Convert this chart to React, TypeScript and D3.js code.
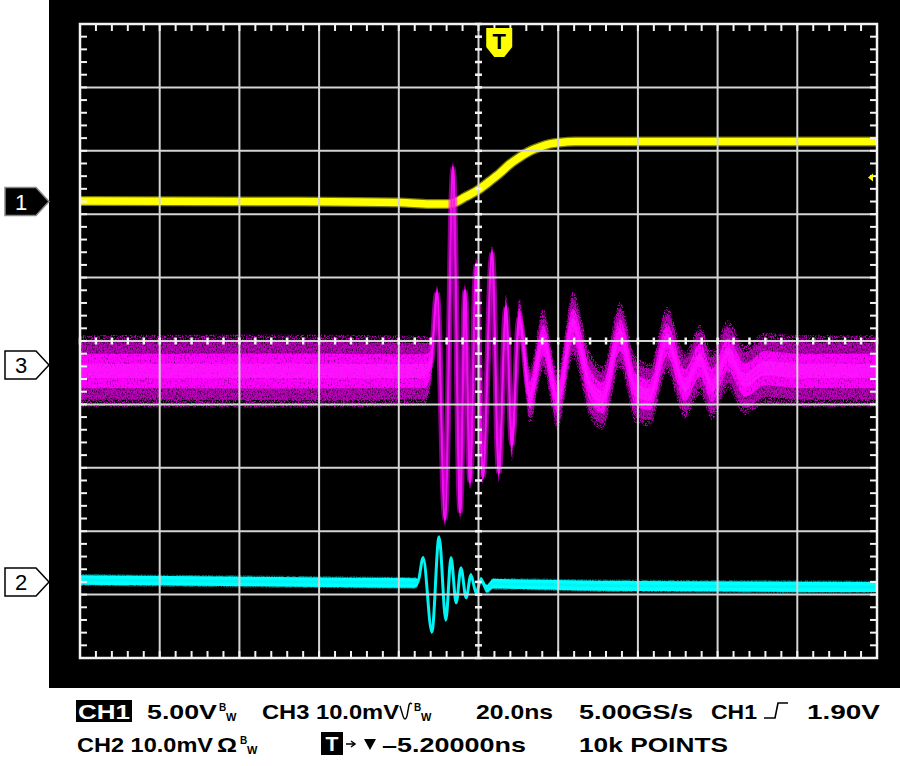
import React from 'react';
import * as d3 from 'd3';

// ---- Data (time in ns, relative to screen centre) ----
// CH1 (5.00 V/div)
const ch1Time = [-100, -44.8, -19.7, -12.2, -7.65, -5.6, -3.4, -0.1, 2.9, 5.4, 7.9, 10.4, 12.9, 15.4, 17.9, 20.5, 24.2, 100];
const ch1Volts = [0.04, 0, -0.08, -0.2, -0.2, -0.04, 0.35, 0.91, 1.62, 2.25, 2.96, 3.51, 3.98, 4.3, 4.54, 4.66, 4.73, 4.73];

// CH3 (10.0 mV/div) – centre of the persistence band and its half-width
const ch3Time = [-100, -44.8, -13.4, -11.9, -10.4, -8.4, -6.4, -4.6, -3.4, -2.1, -0.6, 1.1, 3.4, 5.1, 6.9, 8.4, 10.2, 12.9, 16.2, 19.9, 23.7, 28.0, 31.2, 35.5, 39.5, 43.0, 47.3, 51.8, 55.6, 58.6, 62.6, 66.9, 71.9, 80.7, 100];
const ch3mV = [-0.95, -0.95, -0.95, 0.47, 11.4, -24.4, 31.2, -23.3, 11.8, -18.5, 15.8, -17.7, 17.7, -17.0, 9.1, -12.6, 7.4, -4.7, 3.9, -5.5, 6.3, -3.2, -5.2, 4.7, -3.9, -4.7, 3.9, -3.2, 0.8, -3.2, 1.6, -2.4, -0.5, -0.95, -0.95];
const ch3Spread = [4.5, 4.6, 4.4, 3.0, 1.0, 1.0, 0.8, 1.0, 1.0, 1.0, 1.0, 1.0, 1.0, 1.2, 1.6, 2.0, 2.6, 3.6, 4.0, 3.8, 4.2, 4.2, 4.0, 4.2, 4.2, 4.0, 4.2, 4.2, 4.4, 4.4, 4.4, 4.4, 4.5, 4.5, 4.5];

// CH2 (10.0 mV/div) – centre and half-width of the trace
const ch2Time = [-100, -44.8, -15.9, -15.2, -13.9, -11.7, -9.9, -8.2, -6.9, -5.6, -4.4, -3.1, -1.9, -0.6, 0.6, 2.1, 3.6, 30.5, 100];
const ch2mV = [0.3, 0, -0.16, 0, 3.8, -7.9, 7.1, -6.0, 3.8, -3.3, 2.2, -2.5, 1.1, -1.7, 0.3, -1.1, -0.3, -0.6, -0.8];
const ch2Spread = [0.75, 0.75, 0.75, 0.5, 0.25, 0.25, 0.25, 0.25, 0.25, 0.25, 0.25, 0.25, 0.3, 0.35, 0.45, 0.6, 0.75, 0.8, 0.8];

// Channel settings (offset in divisions from screen centre, units per division)
const ch1Offset = 2.2; const ch1PerDiv = 5;
const ch3Offset = -0.378; const ch3PerDiv = 10;
const ch2Offset = -3.8; const ch2PerDiv = 10;
const triggerTime = 5.2; // ns
const triggerLevel = 1.9; // V

const W = 900, H = 766;
const PX0 = 80, PX1 = 877, PY0 = 24, PY1 = 658;

export default function App() {
  const x = d3.scaleLinear().domain([-100, 100]).range([PX0, PX1]);
  const yd = d3.scaleLinear().domain([-5, 5]).range([PY1, PY0]);
  const y1 = (v: number) => yd(ch1Offset + v / ch1PerDiv);
  const y3 = (v: number) => yd(ch3Offset + v / ch3PerDiv);
  const y2 = (v: number) => yd(ch2Offset + v / ch2PerDiv);

  const ch1 = ch1Time.map((t, i) => [t, ch1Volts[i]] as [number, number]);
  const ch3 = ch3Time.map((t, i) => ({ t, v: ch3mV[i], s: ch3Spread[i] }));
  const ch2 = ch2Time.map((t, i) => ({ t, v: ch2mV[i], s: ch2Spread[i] }));

  const line1 = d3.line<[number, number]>().x(d => x(d[0])).y(d => y1(d[1])).curve(d3.curveMonotoneX);
  const line2 = d3.line<any>().x(d => x(d.t)).y(d => y2(d.v)).curve(d3.curveMonotoneX);
  const band2 = (k: number) => d3.area<any>().x(d => x(d.t)).y0(d => y2(d.v - d.s * k)).y1(d => y2(d.v + d.s * k)).curve(d3.curveMonotoneX);
  const line3 = d3.line<any>().x(d => x(d.t)).y(d => y3(d.v)).curve(d3.curveMonotoneX);
  const band3 = (k: number) => d3.area<any>().x(d => x(d.t)).y0(d => y3(d.v - d.s * k)).y1(d => y3(d.v + d.s * k)).curve(d3.curveMonotoneX);

  // graticule
  const vDivs = d3.range(0, 11).map(i => -100 + i * 20);
  const hDivs = d3.range(-5, 6);
  const xMinor = d3.range(0, 51).map(i => -100 + i * 4);
  const yMinor = d3.range(0, 51).map(i => -5 + i * 0.2);
  const grid = '#d4d4d4';
  const tick = '#f2f2f2';

  const txt = { fontFamily: '"Liberation Sans", Arial, sans-serif', fontWeight: 700 } as const;

  return (
    <svg width={W} height={H} style={{ position: 'absolute', left: 0, top: 0, background: '#fff' }}>
      <defs>
        <filter id="grainSparse" x="0" y="0" width="900" height="766" filterUnits="userSpaceOnUse">
          <feTurbulence type="fractalNoise" baseFrequency="0.9 0.6" numOctaves="2" seed="11" result="n" />
          <feColorMatrix in="n" type="matrix" values="0 0 0 0 0  0 0 0 0 0  0 0 0 0 0  4 0 0 0 -1.7" result="a" />
          <feComposite in="SourceGraphic" in2="a" operator="in" />
        </filter>
        <filter id="grain" x="0" y="0" width="900" height="766" filterUnits="userSpaceOnUse">
          <feTurbulence type="fractalNoise" baseFrequency="0.8 0.45" numOctaves="2" seed="7" result="n" />
          <feColorMatrix in="n" type="matrix" values="0 0 0 0 0  0 0 0 0 0  0 0 0 0 0  3.2 0 0 0 -0.9" result="a" />
          <feComposite in="SourceGraphic" in2="a" operator="in" />
        </filter>
        <filter id="grainDense" x="0" y="0" width="900" height="766" filterUnits="userSpaceOnUse">
          <feTurbulence type="fractalNoise" baseFrequency="0.7 0.4" numOctaves="2" seed="3" result="n" />
          <feColorMatrix in="n" type="matrix" values="0 0 0 0 0  0 0 0 0 0  0 0 0 0 0  3 0 0 0 -0.5" result="a" />
          <feComposite in="SourceGraphic" in2="a" operator="in" />
        </filter>
        <clipPath id="plot"><rect x={PX0} y={PY0} width={PX1 - PX0} height={PY1 - PY0} /></clipPath>
      </defs>
      <rect x={49} y={0} width={851} height={688} fill="#000" />

      <g clipPath="url(#plot)">
        {/* CH1 yellow */}
        <path d={line1(ch1) || ''} fill="none" stroke="#ffff00" strokeOpacity={0.45} strokeWidth={10} />
        <path d={line1(ch1) || ''} fill="none" stroke="#ffff00" strokeWidth={7.5} />
        {/* CH2 cyan */}
        <path d={band2(1.25)(ch2) || ''} fill="#00e8e8" fillOpacity={0.5} filter="url(#grain)" />
        <path d={band2(1)(ch2) || ''} fill="#00ffff" />
        <path d={line2(ch2) || ''} fill="none" stroke="#00f4f4" strokeWidth={3} />
        {/* CH3 magenta */}
        <path d={band3(1.25)(ch3) || ''} fill="#c000c0" filter="url(#grainSparse)" />
        <path d={band3(1)(ch3) || ''} fill="#d000d0" filter="url(#grain)" />
        <path d={band3(1)(ch3) || ''} fill="#900090" fillOpacity={0.3} />
        <path d={band3(0.6)(ch3) || ''} fill="#ff00ff" filter="url(#grainDense)" />
        <path d={band3(0.25)(ch3) || ''} fill="#ff20ff" fillOpacity={0.6} />
        <path d={line3(ch3) || ''} fill="none" stroke="#ff00ff" strokeOpacity={0.55} strokeWidth={2} transform="translate(-2,0)" />
        <path d={line3(ch3) || ''} fill="none" stroke="#ff00ff" strokeOpacity={0.55} strokeWidth={2} transform="translate(2,0)" />
        <path d={line3(ch3) || ''} fill="none" stroke="#ff10ff" strokeOpacity={0.9} strokeWidth={2.5} />
      </g>

      {/* graticule */}
      {vDivs.map(t => <line key={'v' + t} x1={x(t)} x2={x(t)} y1={PY0} y2={PY1} stroke={grid} strokeWidth={2} />)}
      {hDivs.map(d => <line key={'h' + d} x1={PX0} x2={PX1} y1={yd(d)} y2={yd(d)} stroke={grid} strokeWidth={2} />)}
      <rect x={PX0} y={PY0} width={PX1 - PX0} height={PY1 - PY0} fill="none" stroke={tick} strokeWidth={2.5} />
      {xMinor.map(t => (
        <g key={'xm' + t}>
          <line x1={x(t)} x2={x(t)} y1={PY0} y2={PY0 + 7} stroke={tick} strokeWidth={2} />
          <line x1={x(t)} x2={x(t)} y1={PY1} y2={PY1 - 7} stroke={tick} strokeWidth={2} />
          <line x1={x(t)} x2={x(t)} y1={yd(0) - 3.5} y2={yd(0) + 3.5} stroke={tick} strokeWidth={2.5} />
        </g>
      ))}
      {yMinor.map(d => (
        <g key={'ym' + d.toFixed(1)}>
          <line x1={PX0} x2={PX0 + 7} y1={yd(d)} y2={yd(d)} stroke={tick} strokeWidth={2} />
          <line x1={PX1} x2={PX1 - 7} y1={yd(d)} y2={yd(d)} stroke={tick} strokeWidth={2} />
          <line x1={x(0) - 3.5} x2={x(0) + 3.5} y1={yd(d)} y2={yd(d)} stroke={tick} strokeWidth={2.5} />
        </g>
      ))}

      {/* trigger level indicator */}
      <path d={`M${PX1 - 9},${y1(triggerLevel)} l5,-4 v8 Z`} fill="#ffff00" />

      {/* trigger position marker */}
      <g transform={`translate(${x(triggerTime)},0)`}>
        <path d="M-13,28 H13 V47 L5,57 H-5 L-13,47 Z" fill="#ffff00" />
        <text x={0} y={49} textAnchor="middle" fontSize={22} fill="#000" style={txt}>T</text>
      </g>

      {/* channel markers */}
      {[
        { y: yd(ch1Offset), label: '1', dark: true },
        { y: yd(ch3Offset), label: '3', dark: false },
        { y: yd(ch2Offset), label: '2', dark: false },
      ].map(m => (
        <g key={m.label} transform={`translate(0,${m.y})`}>
          <path d="M5,-14 H36 L49,0 L36,14 H5 Z" fill={m.dark ? '#000' : '#fff'} stroke={m.dark ? '#888' : '#000'} strokeWidth={1.5} />
          <text x={21} y={8} textAnchor="middle" fontSize={22} fill={m.dark ? '#fff' : '#000'} fontFamily='"Liberation Sans", Arial, sans-serif'>{m.label}</text>
        </g>
      ))}

      {/* readout line 1 */}
      <g fontSize={21} fill="#000" style={txt}>
        <rect x={76} y={700} width={56} height={22} fill="#000" />
        <text x={78} y={719} fill="#fff" textLength={52} lengthAdjust="spacingAndGlyphs">CH1</text>
        <text x={147} y={719} textLength={70} lengthAdjust="spacingAndGlyphs">5.00V</text>
        <text x={219} y={711} fontSize={10}>B</text>
        <text x={226} y={721} fontSize={11}>W</text>
        <text x={262} y={719} textLength={137} lengthAdjust="spacingAndGlyphs">CH3 10.0mV</text>
        <path d="M400,706 L403,716 Q405,722 407,716 L409,705 Q410,702 412,704" fill="none" stroke="#000" strokeWidth={1.4} />
        <text x={414} y={711} fontSize={10}>B</text>
        <text x={421} y={721} fontSize={11}>W</text>
        <text x={476} y={719} textLength={77} lengthAdjust="spacingAndGlyphs">20.0ns</text>
        <text x={579} y={719} textLength={114} lengthAdjust="spacingAndGlyphs">5.00GS/s</text>
        <text x={711} y={719} textLength={46} lengthAdjust="spacingAndGlyphs">CH1</text>
        <path d="M764,718 H775 L778,703 H788" fill="none" stroke="#000" strokeWidth={1.6} />
        <text x={807} y={719} textLength={73} lengthAdjust="spacingAndGlyphs">1.90V</text>
      </g>
      {/* readout line 2 */}
      <g fontSize={21} fill="#000" style={txt}>
        <text x={77} y={752} textLength={136} lengthAdjust="spacingAndGlyphs">CH2 10.0mV</text>
        <text x={217} y={752} textLength={20} lengthAdjust="spacingAndGlyphs">Ω</text>
        <text x={240} y={744} fontSize={10}>B</text>
        <text x={247} y={754} fontSize={11}>W</text>
        <rect x={321} y={732} width={22} height={23} fill="#000" />
        <text x={332} y={751} textAnchor="middle" fill="#fff" fontSize={21}>T</text>
        <path d="M346,744 H354 M351,741 L355,744 L351,747" fill="none" stroke="#000" strokeWidth={1.5} />
        <path d="M364,739 H376 L370,750 Z" fill="#000" />
        <text x={382} y={752} textLength={144} lengthAdjust="spacingAndGlyphs">–5.20000ns</text>
        <text x={579} y={752} textLength={149} lengthAdjust="spacingAndGlyphs">10k POINTS</text>
      </g>
    </svg>
  );
}
